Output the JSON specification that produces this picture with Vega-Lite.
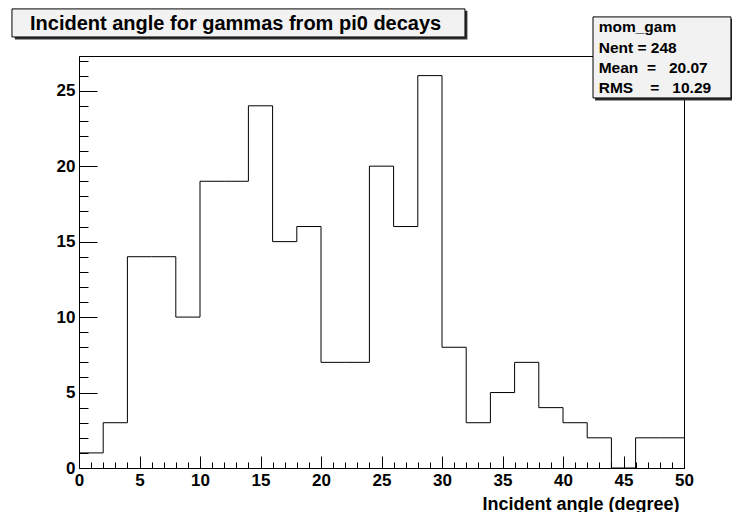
{
  "$schema": "https://vega.github.io/schema/vega-lite/v6.json",
  "width": 605,
  "height": 412,
  "autosize": "none",
  "padding": {"left": 79, "top": 56, "right": 48, "bottom": 44},
  "background": "white",
  "config": {
    "view": {"stroke": "black", "strokeWidth": 1},
    "font": "Liberation Sans",
    "axis": {
      "domainColor": "black",
      "tickColor": "black",
      "labelColor": "black",
      "titleColor": "black",
      "labelFont": "Liberation Sans",
      "labelFontWeight": "bold",
      "labelFontSize": 17,
      "titleFont": "Liberation Sans",
      "titleFontWeight": "bold",
      "titleFontSize": 18,
      "grid": false,
      "labelOverlap": false,
      "labelFlush": false
    }
  },
  "resolve": {"axis": {"x": "independent", "y": "independent"}},
  "layer": [
    {
      "data": {"values": [
        {"angle": 0, "count": 1}, {"angle": 2, "count": 3}, {"angle": 4, "count": 14},
        {"angle": 6, "count": 14}, {"angle": 8, "count": 10}, {"angle": 10, "count": 19},
        {"angle": 12, "count": 19}, {"angle": 14, "count": 24}, {"angle": 16, "count": 15},
        {"angle": 18, "count": 16}, {"angle": 20, "count": 7}, {"angle": 22, "count": 7},
        {"angle": 24, "count": 20}, {"angle": 26, "count": 16}, {"angle": 28, "count": 26},
        {"angle": 30, "count": 8}, {"angle": 32, "count": 3}, {"angle": 34, "count": 5},
        {"angle": 36, "count": 7}, {"angle": 38, "count": 4}, {"angle": 40, "count": 3},
        {"angle": 42, "count": 2}, {"angle": 44, "count": 0}, {"angle": 46, "count": 2},
        {"angle": 48, "count": 2}, {"angle": 50, "count": 2}
      ]},
      "mark": {"type": "line", "interpolate": "step-after", "color": "black", "strokeWidth": 1},
      "encoding": {
        "x": {
          "field": "angle", "type": "quantitative",
          "scale": {"domain": [0, 50], "nice": false, "zero": false},
          "axis": {
            "orient": "bottom",
            "title": "Incident angle (degree)",
            "titleAnchor": "end",
            "titleAlign": "right",
            "titleBaseline": "alphabetic",
            "titleX": 600,
            "titleY": 41,
            "values": [0, 5, 10, 15, 20, 25, 30, 35, 40, 45, 50],
            "tickSize": -12,
            "labelPadding": 16
          }
        },
        "y": {
          "field": "count", "type": "quantitative",
          "scale": {"domain": [0, 27.3], "nice": false, "zero": false},
          "axis": {
            "orient": "left",
            "title": null,
            "values": [0, 5, 10, 15, 20, 25],
            "tickSize": -18,
            "labelPadding": 22
          }
        }
      }
    },
    {
      "data": {"values": [{}]},
      "mark": {"type": "rect", "fill": "#303030", "stroke": null},
      "encoding": {
        "x": {
          "datum": -5.3, "type": "quantitative",
          "axis": {
            "orient": "bottom",
            "title": null,
            "labels": false,
            "domain": false,
            "values": [1,2,3,4,6,7,8,9,11,12,13,14,16,17,18,19,21,22,23,24,26,27,28,29,31,32,33,34,36,37,38,39,41,42,43,44,46,47,48,49],
            "tickSize": -6
          }
        },
        "x2": {"datum": 32.1},
        "y": {
          "datum": 30.3, "type": "quantitative",
          "axis": {
            "orient": "left",
            "title": null,
            "labels": false,
            "domain": false,
            "values": [1,2,3,4,6,7,8,9,11,12,13,14,16,17,18,19,21,22,23,24,26,27],
            "tickSize": -9
          }
        },
        "y2": {"datum": 28.4}
      }
    },
    {
      "data": {"values": [{}]},
      "mark": {"type": "rect", "fill": "#f2f2f2", "stroke": "black", "strokeWidth": 1},
      "encoding": {
        "x": {"datum": -5.54, "type": "quantitative", "axis": null},
        "x2": {"datum": 31.9},
        "y": {"datum": 30.42, "type": "quantitative", "axis": null},
        "y2": {"datum": 28.56}
      }
    },
    {
      "data": {"values": [{"t": "Incident angle for gammas from pi0 decays"}]},
      "mark": {"type": "text", "align": "left", "baseline": "middle", "fontSize": 20, "fontWeight": "bold", "font": "Liberation Sans", "color": "black"},
      "encoding": {
        "x": {"datum": -4.05, "type": "quantitative", "axis": null},
        "y": {"datum": 29.4, "type": "quantitative", "axis": null},
        "text": {"field": "t"}
      }
    },
    {
      "data": {"values": [{}]},
      "mark": {"type": "rect", "fill": "#303030", "stroke": null},
      "encoding": {
        "x": {"datum": 42.65, "type": "quantitative", "axis": null},
        "x2": {"datum": 54.1},
        "y": {"datum": 29.75, "type": "quantitative", "axis": null},
        "y2": {"datum": 24.35}
      }
    },
    {
      "data": {"values": [{}]},
      "mark": {"type": "rect", "fill": "#f2f2f2", "stroke": "black", "strokeWidth": 1},
      "encoding": {
        "x": {"datum": 42.48, "type": "quantitative", "axis": null},
        "x2": {"datum": 53.88},
        "y": {"datum": 29.89, "type": "quantitative", "axis": null},
        "y2": {"datum": 24.52}
      }
    },
    {
      "data": {"values": [{}]},
      "mark": {"type": "text", "align": "left", "baseline": "middle", "fontSize": 15.5, "fontWeight": "bold", "font": "Liberation Sans", "color": "black", "lineHeight": 20.3},
      "encoding": {
        "x": {"datum": 42.95, "type": "quantitative", "axis": null},
        "y": {"datum": 29.2, "type": "quantitative", "axis": null},
        "text": {"value": ["mom_gam", "Nent = 248", "Mean\u00a0\u00a0=\u00a0\u00a0\u00a020.07", "RMS\u00a0\u00a0\u00a0\u00a0=\u00a0\u00a0\u00a010.29"]}
      }
    }
  ]
}
